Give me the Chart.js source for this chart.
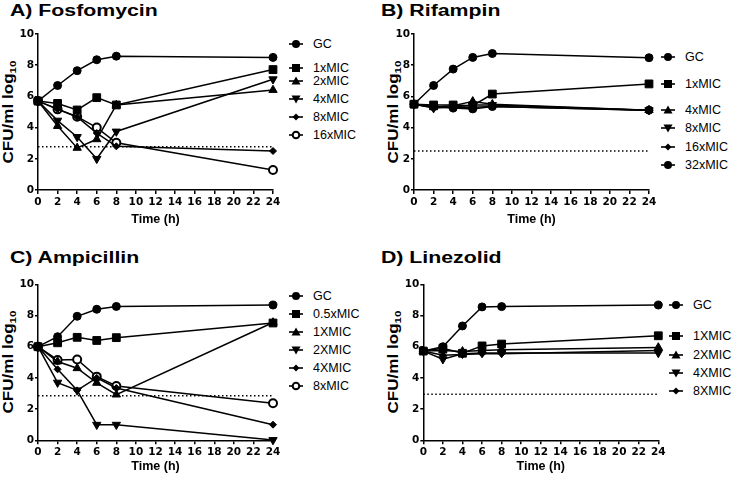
<!DOCTYPE html>
<html>
<head>
<script src="https://cdn.jsdelivr.net/npm/chart.js@4.4.1/dist/chart.umd.min.js"></script>
<style>
  body { margin: 0; background: #fff; font-family: 'Liberation Sans', Arial, sans-serif; }
  #wrap { position: relative; width: 740px; height: 478px; overflow: hidden; }
  .pnl { position: absolute; }
  .ttl { position: absolute; font-weight: bold; font-size: 16px; line-height: 16px; white-space: nowrap;
         transform: scaleX(1.33); transform-origin: left top; }
  .ytl { position: absolute; font-weight: bold; font-size: 14px; line-height: 14px; white-space: nowrap;
         transform: translate(-50%, -50%) rotate(-90deg) scaleX(1.22); }
  .ytl sub { font-size: 9.5px; vertical-align: -3px; }
  .lg { position: absolute; font-size: 12.5px; line-height: 12px; white-space: nowrap; display: flex; align-items: center; }
  .lg svg { margin-right: 10px; }
</style>
<title>Time-kill curves</title>
</head>
<body>
<div id="wrap"></div>
<script>
// sampling times (h)
var hours = [0, 2, 4, 6, 8, 24];

// A) Fosfomycin
var fosGC   = [5.7, 6.7, 7.65, 8.35, 8.58, 8.5];
var fos1x   = [5.7, 5.55, 5.13, 5.92, 5.45, 7.72];
var fos2x   = [5.7, 4.1, 2.7, 3.25, 5.45, 6.41];
var fos4x   = [5.7, 4.45, 3.4, 2.0, 3.75, 7.1];
var fos8x   = [5.7, 5.2, 4.68, 3.65, 2.8, 2.5];
var fos16x  = [5.7, 5.17, 4.7, 4.0, 3.03, 1.28];
var fosLOD  = 2.78;

// B) Rifampin
var rifGC   = [5.5, 6.7, 7.75, 8.5, 8.75, 8.48];
var rif1x   = [5.5, 5.45, 5.45, 5.4, 6.15, 6.8];
var rif4x   = [5.5, 5.3, 5.4, 5.68, 5.5, 5.12];
var rif8x   = [5.5, 5.25, 5.3, 5.45, 5.45, 5.12];
var rif16x  = [5.5, 5.3, 5.3, 5.3, 5.35, 5.12];
var rif32x  = [5.5, 5.35, 5.25, 5.2, 5.35, 5.12];
var rifLOD  = 2.5;

// C) Ampicillin
var ampGC   = [6.0, 6.64, 7.95, 8.4, 8.58, 8.67];
var amp05x  = [6.0, 6.25, 6.6, 6.4, 6.58, 7.52];
var amp1x   = [6.0, 5.05, 4.62, 3.68, 2.93, 7.55];
var amp2x   = [6.0, 3.7, 3.2, 1.0, 1.0, 0.02];
var amp4x   = [6.0, 4.55, 3.2, 4.0, 3.35, 1.0];
var amp8x   = [6.0, 5.15, 5.18, 4.08, 3.48, 2.37];
var ampLOD  = 2.86;

// D) Linezolid
var linGC   = [5.72, 6.0, 7.33, 8.55, 8.57, 8.67];
var lin1x   = [5.72, 5.9, 5.58, 6.05, 6.17, 6.7];
var lin2x   = [5.72, 5.75, 5.7, 5.75, 5.8, 5.95];
var lin4x   = [5.72, 5.2, 5.55, 5.6, 5.6, 5.6];
var lin8x   = [5.72, 5.45, 5.5, 5.55, 5.55, 5.75];
var linLOD  = 2.95;

var yTicks = [0, 2, 4, 6, 8, 10];
var xTicks = [0, 2, 4, 6, 8, 10, 12, 14, 16, 18, 20, 22, 24];

var FONT = "'Liberation Sans', Arial, sans-serif";
var TICKFONT = "'DejaVu Sans', sans-serif";

var markers = {
    circle:  { style: 'circle',   r: 4,   bg: '#000', bw: 1 },
    square:  { style: 'rect',     r: 5.5, bg: '#000', bw: 1 },
    triUp:   { style: 'triangle', r: 4.8, bg: '#000', bw: 1, rot: 0 },
    triDown: { style: 'triangle', r: 4.8, bg: '#000', bw: 1, rot: 180 },
    diamond: { style: 'rectRot',  r: 3.5, bg: '#000', bw: 1 },
    open:    { style: 'circle',   r: 4,   bg: '#fff', bw: 2 }
};

function legendSvg(kind) {
    var s = '<svg width="14" height="12" viewBox="0 0 14 12">' +
        '<line x1="0" y1="6" x2="14" y2="6" stroke="#000" stroke-width="1.6"/>';
    if (kind == 'circle') s += '<circle cx="7" cy="6" r="4" fill="#000"/>';
    if (kind == 'open') s += '<circle cx="7" cy="6" r="3.3" fill="#fff" stroke="#000" stroke-width="2"/>';
    if (kind == 'square') s += '<rect x="3" y="2" width="8" height="8" fill="#000"/>';
    if (kind == 'triUp') s += '<polygon points="7,1.5 11.5,9.5 2.5,9.5" fill="#000"/>';
    if (kind == 'triDown') s += '<polygon points="7,10.5 11.5,2.5 2.5,2.5" fill="#000"/>';
    if (kind == 'diamond') s += '<polygon points="7,2.5 10.5,6 7,9.5 3.5,6" fill="#000"/>';
    return s + '</svg>';
}

function makePanel(p) {
    var wrap = document.getElementById('wrap');

    var t = document.createElement('div');
    t.className = 'ttl';
    t.style.left = p.titleX + 'px';
    t.style.top = p.titleY + 'px';
    t.textContent = p.title;
    wrap.appendChild(t);

    var yt = document.createElement('div');
    yt.className = 'ytl';
    yt.style.left = p.yTitleX + 'px';
    yt.style.top = p.yTitleY + 'px';
    yt.innerHTML = 'CFU/ml log<sub>10</sub>';
    wrap.appendChild(yt);

    for (var i = 0; i < p.series.length; i++) {
        var lg = document.createElement('div');
        lg.className = 'lg';
        lg.style.left = p.legX + 'px';
        lg.style.top = (p.legY[i] - 6) + 'px';
        lg.innerHTML = legendSvg(p.series[i].marker) + '<span>' + p.series[i].label + '</span>';
        wrap.appendChild(lg);
    }

    var box = document.createElement('div');
    box.className = 'pnl';
    box.style.left = p.x + 'px';
    box.style.top = p.y + 'px';
    box.style.width = p.w + 'px';
    box.style.height = p.h + 'px';
    var cv = document.createElement('canvas');
    box.appendChild(cv);
    wrap.appendChild(box);

    var datasets = [{
        data: [{ x: 0, y: p.lod }, { x: 24, y: p.lod }],
        borderColor: '#000',
        borderWidth: 1.5,
        borderDash: [1.5, 2.5],
        pointRadius: 0,
        clip: false
    }];
    p.series.forEach(function (s) {
        var m = markers[s.marker];
        datasets.push({
            label: s.label,
            data: hours.map(function (h, k) { return { x: h, y: s.values[k] }; }),
            borderColor: '#000',
            borderWidth: 1.5,
            tension: 0,
            pointStyle: m.style,
            pointRadius: m.r,
            pointRotation: m.rot || 0,
            pointBackgroundColor: m.bg,
            pointBorderColor: '#000',
            pointBorderWidth: m.bw,
            clip: false
        });
    });

    new Chart(cv, {
        type: 'line',
        data: { datasets: datasets },
        options: {
            responsive: true,
            maintainAspectRatio: false,
            animation: false,
            events: [],
            layout: { padding: { left: 0, top: p.areaTop, right: p.w - p.areaRight, bottom: 0 } },
            plugins: { legend: { display: false }, tooltip: { enabled: false } },
            scales: {
                x: {
                    type: 'linear', min: 0, max: 24,
                    afterBuildTicks: function (s) { s.ticks = xTicks.map(function (v) { return { value: v }; }); },
                    afterFit: function (s) { s.height = p.h - p.areaBottom; },
                    grid: { drawOnChartArea: false, color: '#000', lineWidth: 1.5, tickLength: 4 },
                    border: { color: '#000', width: 1.5 },
                    ticks: { color: '#000', padding: 2, maxRotation: 0, autoSkip: false,
                             font: { family: TICKFONT, size: 10.5, weight: 'bold' } },
                    title: { display: true, text: 'Time (h)', color: '#000',
                             font: { family: FONT, size: 12.5, weight: 'bold' },
                             padding: { top: 0, bottom: p.xTitlePad } }
                },
                y: {
                    type: 'linear', min: 0, max: 10,
                    afterBuildTicks: function (s) { s.ticks = yTicks.map(function (v) { return { value: v }; }); },
                    afterFit: function (s) { s.width = p.areaLeft; },
                    grid: { drawOnChartArea: false, color: '#000', lineWidth: 1.5, tickLength: 3 },
                    border: { color: '#000', width: 1.5 },
                    ticks: { color: '#000', padding: 1, font: { family: TICKFONT, size: 10.5, weight: 'bold' } }
                }
            }
        }
    });
}

makePanel({
    title: 'A) Fosfomycin', titleX: 10, titleY: 3,
    x: 0, y: 0, w: 370, h: 245, areaLeft: 38, areaRight: 273, areaTop: 34, areaBottom: 190, xTitlePad: 18,
    yTitleX: 10, yTitleY: 112, lod: fosLOD, legX: 289, legY: [44, 68, 81, 98.5, 116.5, 134.5],
    series: [
        { label: 'GC', values: fosGC, marker: 'circle' },
        { label: '1xMIC', values: fos1x, marker: 'square' },
        { label: '2xMIC', values: fos2x, marker: 'triUp' },
        { label: '4xMIC', values: fos4x, marker: 'triDown' },
        { label: '8xMIC', values: fos8x, marker: 'diamond' },
        { label: '16xMIC', values: fos16x, marker: 'open' }
    ]
});

makePanel({
    title: 'B) Rifampin', titleX: 381, titleY: 3,
    x: 370, y: 0, w: 370, h: 245, areaLeft: 44, areaRight: 279, areaTop: 34, areaBottom: 190, xTitlePad: 18,
    yTitleX: 395, yTitleY: 112, lod: rifLOD, legX: 661, legY: [57, 84, 110, 128, 146.5, 165],
    series: [
        { label: 'GC', values: rifGC, marker: 'circle' },
        { label: '1xMIC', values: rif1x, marker: 'square' },
        { label: '4xMIC', values: rif4x, marker: 'triUp' },
        { label: '8xMIC', values: rif8x, marker: 'triDown' },
        { label: '16xMIC', values: rif16x, marker: 'diamond' },
        { label: '32xMIC', values: rif32x, marker: 'circle' }
    ]
});

makePanel({
    title: 'C) Ampicillin', titleX: 10, titleY: 250,
    x: 0, y: 245, w: 370, h: 233, areaLeft: 38, areaRight: 273, areaTop: 39.3, areaBottom: 195.3, xTitlePad: 4,
    yTitleX: 10, yTitleY: 362, lod: ampLOD, legX: 289, legY: [296, 314, 332, 350, 368, 386],
    series: [
        { label: 'GC', values: ampGC, marker: 'circle' },
        { label: '0.5xMIC', values: amp05x, marker: 'square' },
        { label: '1XMIC', values: amp1x, marker: 'triUp' },
        { label: '2XMIC', values: amp2x, marker: 'triDown' },
        { label: '4XMIC', values: amp4x, marker: 'diamond' },
        { label: '8xMIC', values: amp8x, marker: 'open' }
    ]
});

makePanel({
    title: 'D) Linezolid', titleX: 381, titleY: 250,
    x: 370, y: 245, w: 370, h: 233, areaLeft: 53.3, areaRight: 288.3, areaTop: 39.3, areaBottom: 195.3, xTitlePad: 4,
    yTitleX: 395, yTitleY: 362, lod: linLOD, legX: 669, legY: [305, 336, 354.5, 372.5, 391],
    series: [
        { label: 'GC', values: linGC, marker: 'circle' },
        { label: '1XMIC', values: lin1x, marker: 'square' },
        { label: '2XMIC', values: lin2x, marker: 'triUp' },
        { label: '4XMIC', values: lin4x, marker: 'triDown' },
        { label: '8XMIC', values: lin8x, marker: 'diamond' }
    ]
});
</script>
</body>
</html>
